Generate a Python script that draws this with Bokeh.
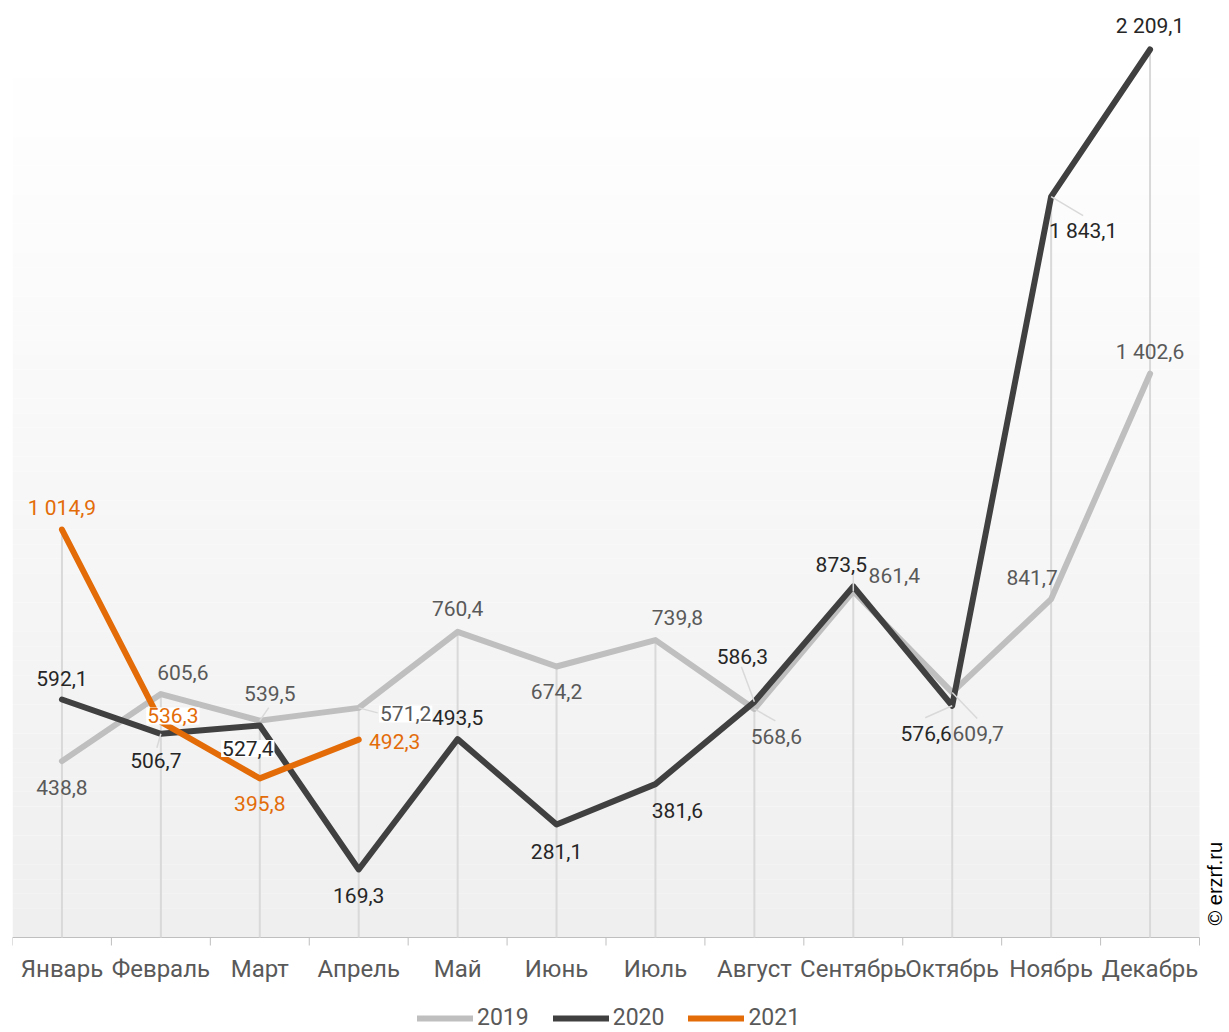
from bokeh.plotting import figure
from bokeh.models import (Range1d, Legend, LegendItem, Label, ColumnDataSource)
from bokeh.core.properties import value
from bokeh.embed import file_html
from bokeh.resources import INLINE

# ---------------- data ----------------
months = ["Январь", "Февраль", "Март", "Апрель", "Май", "Июнь",
          "Июль", "Август", "Сентябрь", "Октябрь", "Ноябрь", "Декабрь"]
v2019 = [438.8, 605.6, 539.5, 571.2, 760.4, 674.2, 739.8, 568.6, 861.4, 609.7, 841.7, 1402.6]
v2020 = [592.1, 506.7, 527.4, 169.3, 493.5, 281.1, 381.6, 586.3, 873.5, 576.6, 1843.1, 2209.1]
v2021 = [1014.9, 536.3, 395.8, 492.3]
series_names = ["2019", "2020", "2021"]

# ---------------- style ----------------
FONT = "Roboto"
C2019, C2020, C2021 = "#bfbfbf", "#404040", "#e36c09"
T2019, T2020, T2021 = "#595959", "#262626", "#e36c09"
PLOT_W = 1187                  # width of the category area
EXTRA_W = 26                   # room right of the plot area for the watermark
PLOT_H = 929                   # from frame top to the zero line
BELOW_H = 94                   # room under the zero line for axis labels and legend
PX_X = PLOT_W / 12.0           # pixels per category
PX_Y = 0.40198                 # pixels per unit
Y_END = PLOT_H / PX_Y
Y_START = -BELOW_H / PX_Y
AREA_TOP = 2174                # top of the shaded plot area

# label offsets in pixels (dx, dy; dy positive = downwards)
off2019 = [(0, 26), (22, -22), (10, -27), (47, 6), (0, -23), (0, 25),
           (22, -23), (22, 28), (41, -16), (26, 41), (-19, -22), (0, -22)]
off2020 = [(0, -21), (-5, 27), (-12, 23), (0, 26), (0, -22), (0, 27),
           (22, 26), (-12, -45), (-12, -22), (-26, 28), (32, 34), (0, -23)]
off2021 = [(0, -22), (12, -6), (0, 25), (36, 2)]
box2019 = [0, 0, 0, 1, 0, 0, 0, 0, 0, 0, 0, 0]
box2020 = [0, 0, 1, 0, 0, 0, 0, 0, 0, 0, 0, 0]
box2021 = [0, 1, 0, 0]
# leader lines (series index, month index, end offset px)
leaders = [(0, 2, (9, -13)), (1, 1, (-4, 14)), (0, 3, (19, 5)), (1, 7, (-13, -35)),
           (0, 7, (21, 12)), (1, 9, (-27, 12)), (0, 9, (25, 26)), (1, 10, (32, 19)),
           (0, 8, (0, -17))]


def fmt(v):
    s = f"{v:,.1f}"
    return s.replace(",", " ").replace(".", ",")


xs = list(range(12))
bounds = [i - 0.5 for i in range(13)]

p = figure(frame_width=PLOT_W + EXTRA_W, frame_height=PLOT_H + BELOW_H,
           x_range=Range1d(-0.5, 11.5 + EXTRA_W / PX_X), y_range=Range1d(Y_START, Y_END),
           output_backend="svg", toolbar_location=None,
           x_axis_location=None, y_axis_location=None,
           min_border_left=12, min_border_right=0, min_border_top=8, min_border_bottom=0,
           background_fill_color="white", border_fill_color="white",
           outline_line_color=None)
p.grid.visible = False

# gradient plot area
nb = 60
for k in range(nb):
    t = k / nb
    g = int(round(0xef + (0xff - 0xef) * t))
    col = "#%02x%02x%02x" % (g, g, g)
    p.quad(left=-0.5, right=11.5, bottom=AREA_TOP * k / nb, top=AREA_TOP * (k + 1) / nb,
           fill_color=col, line_color=None)

# category axis: line, boundary ticks, month labels
p.segment(x0=[-0.5], y0=[0], x1=[11.5], y1=[0], line_color="#bfbfbf", line_width=1)
p.segment(x0=bounds, y0=[0] * 13, x1=bounds, y1=[-8 / PX_Y] * 13,
          line_color="#bfbfbf", line_width=1)
p.text(x=xs, y=[0] * 12, text=months, y_offset=31, text_align="center",
       text_baseline="middle", text_font=value(FONT), text_font_size="24px",
       text_color="#595959")

# drop lines
maxv = []
for i in xs:
    vals = [v2019[i], v2020[i]] + ([v2021[i]] if i < len(v2021) else [])
    maxv.append(max(vals))
p.segment(x0=xs, y0=[0] * 12, x1=xs, y1=maxv, line_color="#d9d9d9", line_width=2)

# lines
r19 = p.line(xs, v2019, line_color=C2019, line_width=6, line_join="round", line_cap="round")
r20 = p.line(xs, v2020, line_color=C2020, line_width=6, line_join="round", line_cap="round")
r21 = p.line(xs[:len(v2021)], v2021, line_color=C2021, line_width=6, line_join="round", line_cap="round")

# leader lines
allv = [v2019, v2020, v2021]
lx0, ly0, lx1, ly1 = [], [], [], []
for s, m, (dx, dy) in leaders:
    lx0.append(m)
    ly0.append(allv[s][m])
    lx1.append(m + dx / PX_X)
    ly1.append(allv[s][m] - dy / PX_Y)
p.segment(x0=lx0, y0=ly0, x1=lx1, y1=ly1, line_color="#d9d9d9", line_width=1.5)

# data labels
for vals, offs, boxes, tcol in [(v2019, off2019, box2019, T2019),
                                 (v2020, off2020, box2020, T2020),
                                 (v2021, off2021, box2021, T2021)]:
    src = ColumnDataSource(dict(
        x=xs[:len(vals)], y=vals, t=[fmt(v) for v in vals],
        dx=[o[0] for o in offs], dy=[o[1] for o in offs],
        ba=[float(b) for b in boxes]))
    p.text(x="x", y="y", text="t", x_offset="dx", y_offset="dy", source=src,
           text_align="center", text_baseline="middle",
           text_font=value(FONT), text_font_size="21px", text_color=tcol,
           background_fill_color="white", background_fill_alpha="ba", padding=1)

# legend (inside the frame, under the month labels)
legend = Legend(items=[LegendItem(label=series_names[0], renderers=[r19]),
                       LegendItem(label=series_names[1], renderers=[r20]),
                       LegendItem(label=series_names[2], renderers=[r21])],
                orientation="horizontal", location=(405, 0),
                label_text_font=FONT, label_text_font_size="23px",
                label_text_color="#595959", glyph_width=56, glyph_height=18,
                label_height=18, label_standoff=4, spacing=24, padding=0, margin=0,
                border_line_color=None, background_fill_alpha=0)
p.add_layout(legend, "center")

# watermark
wm = Label(x=11.5 + 15 / PX_X, y=12 / PX_Y, text="© erzrf.ru", angle=90, angle_units="deg",
           text_align="left", text_baseline="middle", text_font="Liberation Sans",
           text_font_size="20px", text_color="#000000")
p.add_layout(wm)

open("out.html", "w").write(file_html(p, INLINE))
